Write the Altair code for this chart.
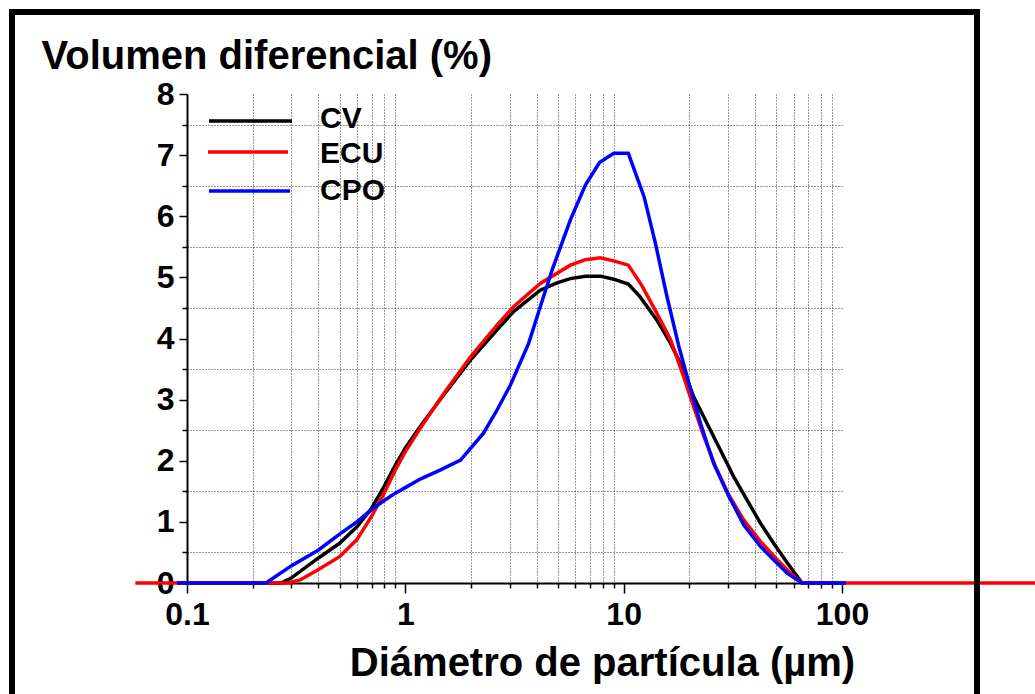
import altair as alt
import pandas as pd

# ---- data (diameter in µm, differential volume in %) ----
cv_d = [0.09, 0.27, 0.3, 0.4, 0.5, 0.6, 0.7, 0.8, 0.9, 1.0, 1.17, 1.5, 1.99, 2.63, 3.13,
        4.15, 4.95, 5.7, 6.68, 7.82, 9.0, 10.5, 11.9, 14.2, 16.4, 18.8, 20.9, 24.1, 27.7,
        31.9, 36.7, 42.3, 48.6, 56.1, 65.6, 104]
cv_v = [0, 0, 0.08, 0.41, 0.65, 0.92, 1.22, 1.58, 1.93, 2.21, 2.56, 3.08, 3.65, 4.14, 4.44,
        4.79, 4.91, 4.98, 5.02, 5.02, 4.97, 4.89, 4.68, 4.30, 3.92, 3.49, 3.05, 2.61, 2.18,
        1.74, 1.36, 0.98, 0.65, 0.33, 0, 0]

ecu_d = [0.058, 0.29, 0.33, 0.4, 0.5, 0.6, 0.7, 0.8, 0.9, 1.0, 1.17, 1.5, 1.99, 2.63, 3.13,
         4.15, 5.7, 6.68, 7.82, 9.0, 10.5, 12.1, 14.2, 16.4, 18.8, 20.9, 23.3, 26.3, 30.3,
         35.5, 42.3, 50.5, 58.1, 65.6, 3000]
ecu_v = [0, 0, 0.05, 0.22, 0.43, 0.71, 1.09, 1.47, 1.85, 2.15, 2.53, 3.10, 3.70, 4.22, 4.52,
         4.90, 5.20, 5.29, 5.32, 5.27, 5.20, 4.87, 4.41, 3.98, 3.38, 2.89, 2.40, 1.91, 1.44,
         1.03, 0.68, 0.38, 0.16, 0, 0]

cpo_d = [0.09, 0.23, 0.3, 0.4, 0.5, 0.6, 0.7, 0.8, 0.9, 1.0, 1.17, 1.45, 1.79, 2.28, 2.63,
         3.03, 3.67, 4.15, 4.70, 5.70, 6.68, 7.75, 9.0, 10.5, 12.4, 13.97, 15.8, 17.9, 19.9,
         22.5, 25.8, 30.3, 35.5, 42.3, 49.5, 56.1, 65.6, 104]
cpo_v = [0, 0, 0.28, 0.54, 0.80, 1.0, 1.2, 1.35, 1.47, 1.56, 1.70, 1.85, 2.01, 2.45, 2.83,
         3.24, 3.92, 4.52, 5.12, 5.94, 6.51, 6.88, 7.03, 7.03, 6.32, 5.56, 4.68, 3.87, 3.27,
         2.61, 1.96, 1.42, 0.95, 0.60, 0.35, 0.16, 0, 0]

series_names = ["CV", "ECU", "CPO"]
series_colors = ["#000000", "#ff0000", "#0000ff"]

x_major = [0.1, 1, 10, 100]
x_ticks = [0.1, 0.2, 0.3, 0.4, 0.5, 0.6, 0.7, 0.8, 0.9,
           1, 2, 3, 4, 5, 6, 7, 8, 9,
           10, 20, 30, 40, 50, 60, 70, 80, 90, 100]
y_ticks = [0, 0.5, 1, 1.5, 2, 2.5, 3, 3.5, 4, 4.5, 5, 5.5, 6, 6.5, 7, 7.5, 8]

x_title = "Diámetro de partícula (µm)"
y_title = "Volumen diferencial (%)"

FONT = "Liberation Sans"
W, H = 655, 489

x_major_test = "indexof([0.1, 1, 10, 100], datum.value) >= 0"
y_major_test = "datum.value % 1 == 0"

x_scale = alt.Scale(type="log", domain=[0.1, 100], nice=False)
y_scale = alt.Scale(domain=[0, 8], nice=False, zero=False)

x_axis = alt.Axis(
    values=x_ticks, format="~g",
    labelExpr=f"{x_major_test} ? datum.label : ''",
    labelOverlap=False, labelFlush=False,
    tickSize={"condition": {"test": x_major_test, "value": 10}, "value": 5},
    grid=True,
    gridOpacity={"condition": {"test": x_major_test, "value": 0}, "value": 1},
    labelPadding=6,
    title=x_title, titleX=415, titleY=92, titleAlign="center",
    titleBaseline="alphabetic", titleFontSize=40,
)
y_axis = alt.Axis(
    values=y_ticks, format="~g",
    labelExpr=f"{y_major_test} ? datum.label : ''",
    labelOverlap=False, labelFlush=False,
    tickSize={"condition": {"test": y_major_test, "value": 8}, "value": 5},
    grid=True,
    gridOpacity={"condition": {"test": y_major_test, "value": 0}, "value": 1},
    labelPadding=5,
    title=y_title, titleAngle=0, titleX=-146, titleY=-26, titleAlign="left",
    titleBaseline="alphabetic", titleFontSize=40,
)


def series_layer(d, v, color):
    df = pd.DataFrame({"d": d, "v": v})
    return alt.Chart(df).mark_line(color=color, strokeWidth=3.5).encode(
        x=alt.X("d:Q", scale=x_scale, axis=x_axis),
        y=alt.Y("v:Q", scale=y_scale, axis=y_axis),
    )


layers = [
    series_layer(cv_d, cv_v, series_colors[0]),
    series_layer(ecu_d, ecu_v, series_colors[1]),
    series_layer(cpo_d, cpo_v, series_colors[2]),
]

# manual legend (layout positions only)
leg_x1 = [22, 21, 22]
leg_x2 = [105, 101, 103]
leg_y = [27, 58, 97]
leg_ty = [25, 60, 97]
for i, name in enumerate(series_names):
    ldf = pd.DataFrame({"s": [name]})
    layers.append(
        alt.Chart(ldf).mark_rule(color=series_colors[i], strokeWidth=3.5).encode(
            x=alt.value(leg_x1[i]), x2=alt.value(leg_x2[i]), y=alt.value(leg_y[i]))
    )
    layers.append(
        alt.Chart(ldf).mark_text(align="left", baseline="middle", font=FONT,
                                 fontWeight="bold", fontSize=30, color="black").encode(
            text="s:N", x=alt.value(133), y=alt.value(leg_ty[i]))
    )

# outer frame
layers.append(
    alt.Chart(pd.DataFrame({"a": [0]})).mark_rect(
        fillOpacity=0, stroke="black", strokeWidth=6).encode(
        x=alt.value(-175), x2=alt.value(790), y=alt.value(-82), y2=alt.value(720))
)

chart = alt.layer(*layers).properties(
    width=W, height=H,
    autosize=alt.AutoSizeParams(type="none"),
    padding={"left": 187, "top": 94, "right": 193, "bottom": 111},
    background="white",
).configure_view(strokeWidth=0).configure_axis(
    labelFont=FONT, labelFontWeight="bold", labelFontSize=32, labelColor="black",
    titleFont=FONT, titleFontWeight="bold", titleColor="black",
    domainColor="black", domainWidth=2, tickColor="black", tickWidth=1.5,
    gridColor="#333333", gridDash=[1, 2], gridWidth=1,
)

chart.save("out.html", embed_options={"renderer": "svg", "actions": False})
